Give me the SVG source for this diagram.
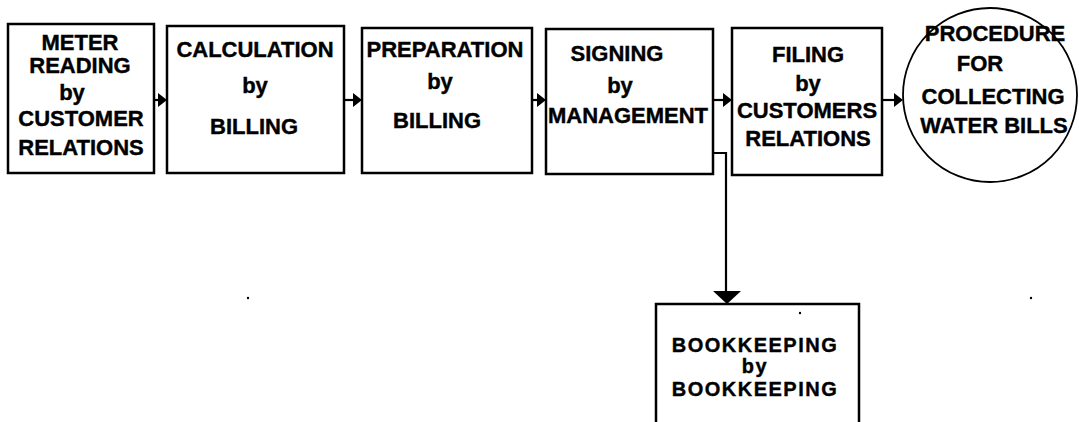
<svg xmlns="http://www.w3.org/2000/svg" width="1079" height="422" viewBox="0 0 1079 422">
  <style>
    .box { fill: #fff; stroke: #000; stroke-width: 2.5; }
    .circ { fill: #fff; stroke: #000; stroke-width: 1.8; }
    .lbl { font-family: "Liberation Sans", Arial, sans-serif; font-weight: bold; font-size: 22px; fill: #000; stroke: #000; stroke-width: 0.4; text-anchor: middle; }
    .sm { font-size: 20px; letter-spacing: 1.5px; }
    .wire { fill: none; stroke: #000; stroke-width: 2.2; }
    .head { fill: #000; }
  </style>
  <rect width="1079" height="422" fill="#fff"/>

  <g id="meter-reading">
    <rect class="box" x="8" y="24" width="146" height="149"/>
    <text class="lbl" x="80" y="50">METER</text>
    <text class="lbl" x="80" y="73">READING</text>
    <text class="lbl" x="72" y="100">by</text>
    <text class="lbl" x="81" y="126">CUSTOMER</text>
    <text class="lbl" x="81" y="155">RELATIONS</text>
  </g>

  <g id="calculation">
    <rect class="box" x="167" y="26" width="177" height="147"/>
    <text class="lbl" x="255" y="57">CALCULATION</text>
    <text class="lbl" x="255" y="93">by</text>
    <text class="lbl" x="254" y="134">BILLING</text>
  </g>

  <g id="preparation">
    <rect class="box" x="362" y="28" width="170" height="145"/>
    <text class="lbl" x="445" y="57">PREPARATION</text>
    <text class="lbl" x="440" y="89">by</text>
    <text class="lbl" x="437" y="128">BILLING</text>
  </g>

  <g id="signing">
    <rect class="box" x="546" y="29" width="167" height="145"/>
    <text class="lbl" x="617" y="61">SIGNING</text>
    <text class="lbl" x="620" y="93">by</text>
    <text class="lbl" x="628" y="123">MANAGEMENT</text>
  </g>

  <g id="filing">
    <rect class="box" x="732" y="28" width="150" height="147"/>
    <text class="lbl" x="808" y="62">FILING</text>
    <text class="lbl" x="808" y="91">by</text>
    <text class="lbl" x="807" y="118">CUSTOMERS</text>
    <text class="lbl" x="808" y="146">RELATIONS</text>
  </g>

  <g id="procedure">
    <circle class="circ" cx="990" cy="95" r="87"/>
    <text class="lbl" x="995" y="41">PROCEDURE</text>
    <text class="lbl" x="980" y="71">FOR</text>
    <text class="lbl" x="993" y="104">COLLECTING</text>
    <text class="lbl" x="994" y="133">WATER BILLS</text>
  </g>

  <g id="bookkeeping">
    <rect class="box" x="656" y="304" width="203" height="130"/>
    <text class="lbl sm" x="755" y="352">BOOKKEEPING</text>
    <text class="lbl sm" x="755" y="373">by</text>
    <text class="lbl sm" x="755" y="396">BOOKKEEPING</text>
  </g>

  <g id="connectors">
    <path class="wire" d="M154 100 H160"/>
    <path class="head" d="M158 93 L167 100 L158 107 Z"/>
    <path class="wire" d="M344 100 H355"/>
    <path class="head" d="M353 93 L362 100 L353 107 Z"/>
    <path class="wire" d="M532 100 H539"/>
    <path class="head" d="M537 93 L546 100 L537 107 Z"/>
    <path class="wire" d="M713 100 H725"/>
    <path class="head" d="M723 93 L732 100 L723 107 Z"/>
    <path class="wire" d="M882 100 H896"/>
    <path class="head" d="M894 93 L903 100 L894 107 Z"/>
    <path class="wire" d="M713 153 H726 V293"/>
    <path class="head" d="M713 291 L741 291 L727 304 Z"/>
  </g>

  <g id="specks" fill="#000">
    <circle cx="248" cy="298" r="1.2"/>
    <circle cx="1031" cy="298" r="1.2"/>
    <circle cx="800" cy="313" r="1.2"/>
  </g>
</svg>
